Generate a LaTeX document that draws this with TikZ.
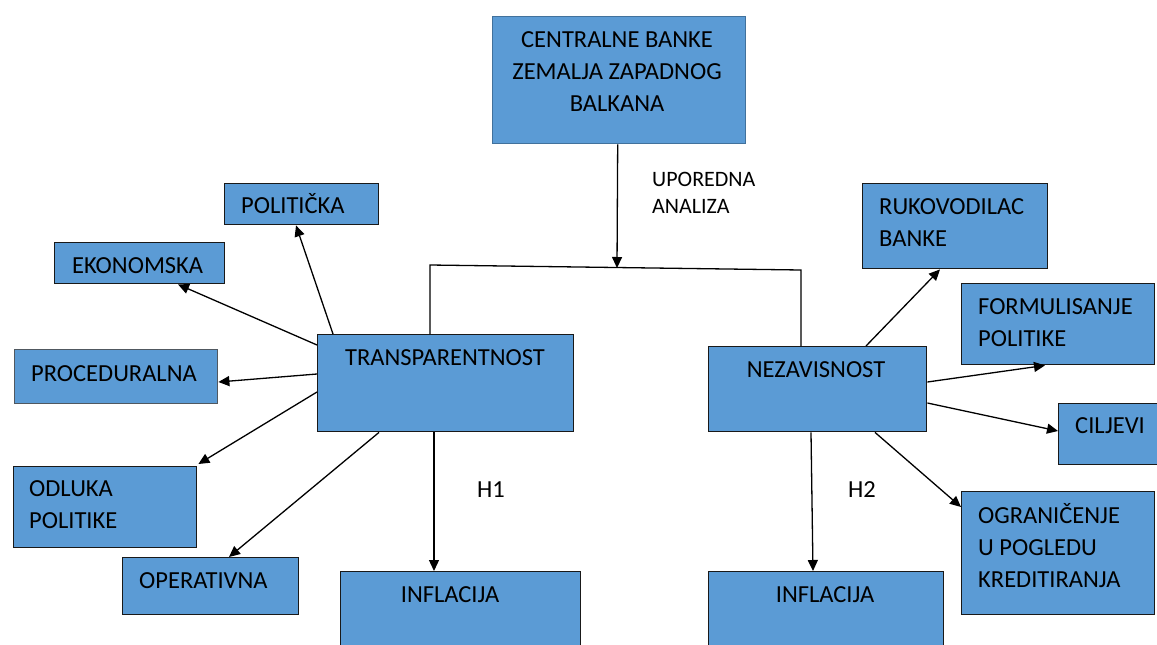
\documentclass[tikz,border=0pt]{standalone}
\usepackage{fontspec}
\setmainfont{Carlito}
\usetikzlibrary{arrows.meta,calc}
\definecolor{boxblue}{HTML}{5B9BD5}
\definecolor{boxedge}{HTML}{41719C}
\definecolor{proedge}{HTML}{505860}
\tikzset{
  box/.style={rectangle, fill=boxblue, draw=black!90, line width=1.4pt, anchor=north west, inner sep=0pt},
  txt/.style={inner sep=0pt, font=\fontsize{24.5}{32}\selectfont, text=black},
  lbl/.style={inner sep=0pt, font=\fontsize{22}{27}\selectfont, text=black},
  arr/.style={line width=1.3pt, -{Triangle[length=11pt,width=10pt]}},
  ln/.style={line width=1.3pt}
}
\begin{document}
\begin{tikzpicture}[x=1pt,y=-1pt]
\useasboundingbox (0,0) rectangle (1157,645);
\clip (0,0) rectangle (1157,645);
% boxes
\node[box, draw=boxedge, minimum width=253pt, minimum height=127pt] (cb) at (492,16) {};
\node[box, minimum width=154pt, minimum height=41pt] (pol) at (224,183) {};
\node[box, minimum width=170pt, minimum height=41pt] (eko) at (54,242) {};
\node[box, draw=proedge, minimum width=203pt, minimum height=54pt] (pro) at (14,349) {};
\node[box, minimum width=256pt, minimum height=97pt] (tr) at (317,334) {};
\node[box, minimum width=183pt, minimum height=81pt] (odl) at (13,466) {};
\node[box, minimum width=176pt, minimum height=57pt] (ope) at (122,557) {};
\node[box, minimum width=240pt, minimum height=95pt] (inf1) at (340,571) {};
\node[box, minimum width=218pt, minimum height=85pt] (nez) at (708,346) {};
\node[box, minimum width=185pt, minimum height=85pt] (ruk) at (862,183) {};
\node[box, minimum width=193pt, minimum height=81pt] (for) at (961,283) {};
\node[box, minimum width=115pt, minimum height=61pt] (cil) at (1058,403) {};
\node[box, minimum width=193pt, minimum height=123pt] (ogr) at (961,491) {};
\node[box, minimum width=235pt, minimum height=95pt] (inf2) at (708,571) {};
% texts (multi-line nodes: base = baseline of last line)
\node[txt, anchor=base, align=center] (tcb) at (617,111) {CENTRALNE BANKE\\ZEMALJA ZAPADNOG\\BALKANA};
\node[lbl, anchor=base west, align=left] (tupo) at (652,213) {UPOREDNA\\ANALIZA};
\node[txt, anchor=base west] (tpol) at (241,213) {POLITIČKA};
\node[txt, anchor=base west] (teko) at (72,273) {EKONOMSKA};
\node[txt, anchor=base west] (tpro) at (31,381) {PROCEDURALNA};
\node[txt, anchor=base] (ttr) at (445,365) {TRANSPARENTNOST};
\node[txt, anchor=base west, align=left] (todl) at (29,528) {ODLUKA\\POLITIKE};
\node[txt, anchor=base west] (tope) at (139,588) {OPERATIVNA};
\node[txt, anchor=base] (tinf1) at (450,602) {INFLACIJA};
\node[txt, anchor=base west] (th1) at (477,497) {H1};
\node[txt, anchor=base] (tnez) at (816,377) {NEZAVISNOST};
\node[txt, anchor=base west, align=left] (truk) at (879,246) {RUKOVODILAC\\BANKE};
\node[txt, anchor=base west, align=left] (tfor) at (978,346) {FORMULISANJE\\POLITIKE};
\node[txt, anchor=base west] (tcil) at (1075,433) {CILJEVI};
\node[txt, anchor=base west, align=left] (togr) at (978,587) {OGRANIČENJE\\U POGLEDU\\KREDITIRANJA};
\node[txt, anchor=base] (tinf2) at (825,602) {INFLACIJA};
\node[txt, anchor=base west] (th2) at (848,497) {H2};
% junction
\coordinate (jl) at (430,265);
\coordinate (jm) at (617,268);
\coordinate (jr) at (801,270);
\draw[arr] ($(cb.south)+(-1.5,0)$) -- (jm);
\draw[ln] ($(tr.north west)+(113,0)$) -- (jl) -- (jr) -- ($(nez.north west)+(93,0)$);
% arrows from transparentnost
\draw[arr] ($(tr.north west)+(16,0)$) -- ($(pol.south west)+(72,0)$);
\draw[arr] ($(tr.north west)+(0,11)$) -- ($(eko.south west)+(124,0)$);
\draw[arr] ($(tr.north west)+(0,40)$) -- ($(pro.north east)+(0,33)$);
\draw[arr] ($(tr.north west)+(0,58)$) -- ($(odl.north east)+(1,-2)$);
\draw[arr] ($(tr.south west)+(62,0)$) -- ($(ope.north west)+(107,0)$);
\draw[arr] ($(tr.south west)+(117,0)$) -- ($(inf1.north west)+(94,0)$);
% arrows from nezavisnost
\draw[arr] ($(nez.north west)+(158,0)$) -- ($(ruk.south west)+(78,0)$);
\draw[arr] ($(nez.north east)+(0,36)$) -- ($(for.south west)+(84,0)$);
\draw[arr] ($(nez.north east)+(0,57)$) -- ($(cil.north west)+(0,28)$);
\draw[arr] ($(nez.south west)+(167,0)$) -- ($(ogr.north west)+(0,16)$);
\draw[arr] ($(nez.south west)+(103,0)$) -- ($(inf2.north west)+(105,0)$);
\end{tikzpicture}
\end{document}
